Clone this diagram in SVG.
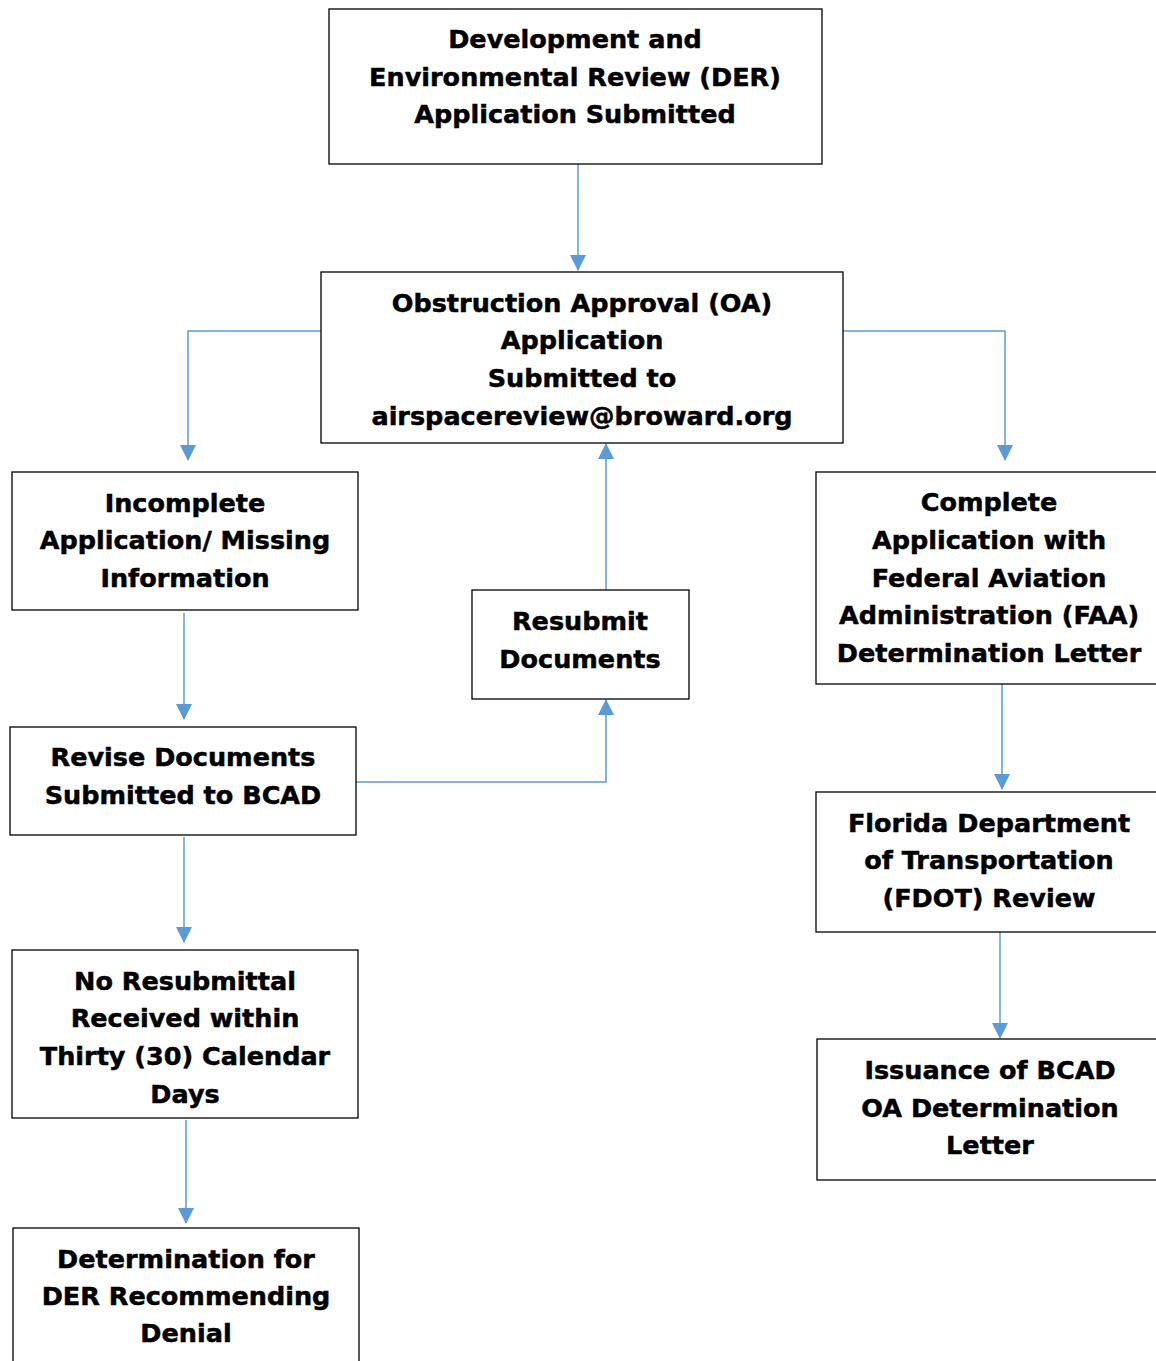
<svg xmlns="http://www.w3.org/2000/svg" width="1156" height="1361" viewBox="0 0 1156 1361">
<defs>
<style>
.box{fill:#fff;stroke:#000;stroke-width:1.3}
.t{font-family:"DejaVu Sans",Verdana,sans-serif;font-weight:bold;font-size:25.5px;text-anchor:middle;fill:#000;stroke:#000;stroke-width:0.5}
.c{fill:none;stroke:#5B9BD5;stroke-width:1.5}
</style>
<marker id="ah" markerUnits="userSpaceOnUse" markerWidth="16" markerHeight="16" viewBox="0 0 16 16" refX="15" refY="8" orient="auto">
<path d="M0,0 L16,8 L0,16 Z" fill="#5B9BD5"/>
</marker>
</defs>
<rect width="1156" height="1361" fill="#fff"/>
<g id="connectors">
<path class="c" d="M578,164 V270" marker-end="url(#ah)"/>
<path class="c" d="M321,331 H188 V460" marker-end="url(#ah)"/>
<path class="c" d="M843,331 H1005 V460" marker-end="url(#ah)"/>
<path class="c" d="M184,613 V719" marker-end="url(#ah)"/>
<path class="c" d="M356,782 H606 V700" marker-end="url(#ah)"/>
<path class="c" d="M606,590 V444" marker-end="url(#ah)"/>
<path class="c" d="M184,837 V942" marker-end="url(#ah)"/>
<path class="c" d="M186,1120 V1223" marker-end="url(#ah)"/>
<path class="c" d="M1002,684 V789" marker-end="url(#ah)"/>
<path class="c" d="M1000,932 V1038" marker-end="url(#ah)"/>
</g>
<g id="n-der">
<rect class="box" x="329" y="9" width="493" height="155"/>
<text class="t" x="575" y="48">Development and</text>
<text class="t" x="575" y="86">Environmental Review (DER)</text>
<text class="t" x="575" y="123">Application Submitted</text>
</g>
<g id="n-oa">
<rect class="box" x="321" y="272" width="522" height="171"/>
<text class="t" x="582" y="312">Obstruction Approval (OA)</text>
<text class="t" x="582" y="349">Application</text>
<text class="t" x="582" y="387">Submitted to</text>
<text class="t" x="582" y="425">airspacereview@broward.org</text>
</g>
<g id="n-incomplete">
<rect class="box" x="12" y="472" width="346" height="138"/>
<text class="t" x="185" y="512">Incomplete</text>
<text class="t" x="185" y="549">Application/ Missing</text>
<text class="t" x="185" y="587">Information</text>
</g>
<g id="n-resubmit">
<rect class="box" x="472" y="590" width="217" height="109"/>
<text class="t" x="580" y="630">Resubmit</text>
<text class="t" x="580" y="668">Documents</text>
</g>
<g id="n-revise">
<rect class="box" x="10" y="727" width="346" height="108"/>
<text class="t" x="183" y="766">Revise Documents</text>
<text class="t" x="183" y="804">Submitted to BCAD</text>
</g>
<g id="n-noresub">
<rect class="box" x="12" y="950" width="346" height="168"/>
<text class="t" x="185" y="990">No Resubmittal</text>
<text class="t" x="185" y="1027">Received within</text>
<text class="t" x="185" y="1065">Thirty (30) Calendar</text>
<text class="t" x="185" y="1103">Days</text>
</g>
<g id="n-denial">
<rect class="box" x="13" y="1228" width="346" height="140"/>
<text class="t" x="186" y="1268">Determination for</text>
<text class="t" x="186" y="1305">DER Recommending</text>
<text class="t" x="186" y="1342">Denial</text>
</g>
<g id="n-complete">
<rect class="box" x="816" y="472" width="350" height="212"/>
<text class="t" x="989" y="511">Complete</text>
<text class="t" x="989" y="549">Application with</text>
<text class="t" x="989" y="587">Federal Aviation</text>
<text class="t" x="989" y="624">Administration (FAA)</text>
<text class="t" x="989" y="662">Determination Letter</text>
</g>
<g id="n-fdot">
<rect class="box" x="816" y="792" width="350" height="140"/>
<text class="t" x="989" y="832">Florida Department</text>
<text class="t" x="989" y="869">of Transportation</text>
<text class="t" x="989" y="907">(FDOT) Review</text>
</g>
<g id="n-issuance">
<rect class="box" x="817" y="1039" width="350" height="141"/>
<text class="t" x="990" y="1079">Issuance of BCAD</text>
<text class="t" x="990" y="1117">OA Determination</text>
<text class="t" x="990" y="1154">Letter</text>
</g>
</svg>
